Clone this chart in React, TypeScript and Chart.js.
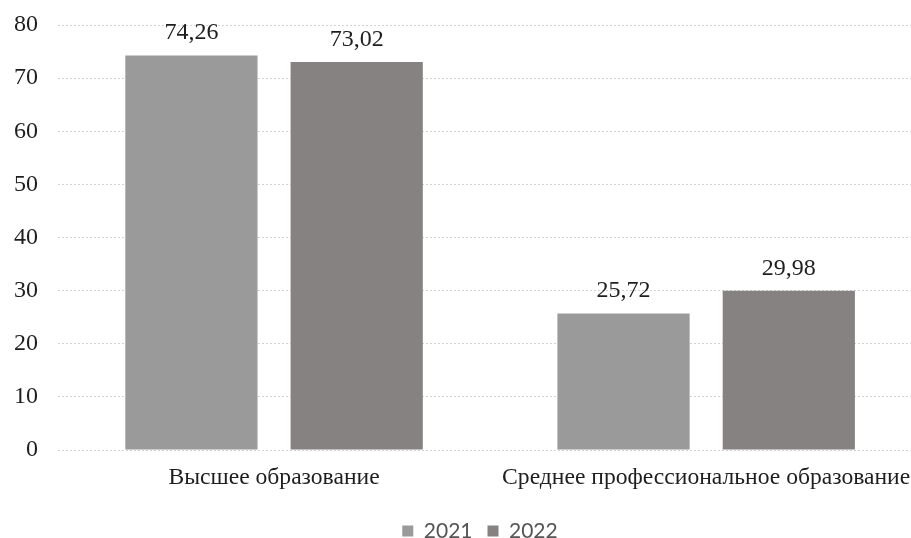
import React, { useEffect, useRef } from "react";
import { Chart, registerables } from "chart.js";

Chart.register(...registerables);

const categories = ["Высшее образование", "Среднее профессиональное образование"];
const values2021 = [74.26, 25.72];
const values2022 = [73.02, 29.98];
const seriesLabels = ["2021", "2022"];
const yTicks = [0, 10, 20, 30, 40, 50, 60, 70, 80];

const OFFSET_X = 6;
const CANVAS_W = 930;
const CANVAS_H = 564;

const fmt = (v: number) => v.toFixed(2).replace(".", ",");

const dataLabelPlugin = {
  id: "dataLabels",
  afterDatasetsDraw(chart: any) {
    const ctx = chart.ctx;
    ctx.save();
    ctx.font = '24px "Liberation Serif"';
    ctx.fillStyle = "#1e1e1e";
    ctx.textAlign = "center";
    ctx.textBaseline = "alphabetic";
    chart.data.datasets.forEach((ds: any, i: number) => {
      const meta = chart.getDatasetMeta(i);
      meta.data.forEach((bar: any, j: number) => {
        ctx.fillText(fmt(ds.data[j]), bar.x, bar.y - 16);
      });
    });
    ctx.restore();
  },
};

const legendShiftPlugin = {
  id: "legendShift",
  afterLayout(chart: any) {
    const lg = chart.legend;
    if (!lg) return;
    const targetCx = 480 + OFFSET_X;
    const targetCy = 528.5;
    const dx = targetCx - (lg.left + lg.right) / 2;
    const dy = targetCy - (lg.top + lg.bottom) / 2;
    lg.left += dx;
    lg.right += dx;
    lg.top += dy;
    lg.bottom += dy;
  },
};

export default function App() {
  const ref = useRef<HTMLCanvasElement>(null);
  useEffect(() => {
    document.documentElement.style.overflow = "hidden";
    document.body.style.margin = "0";
    document.body.style.overflow = "hidden";
    const chart = new Chart(ref.current!, {
      type: "bar",
      data: {
        labels: categories,
        datasets: [
          {
            label: seriesLabels[0],
            data: values2021,
            backgroundColor: "#9b9a9a",
            categoryPercentage: 0.765,
            barPercentage: 0.8,
          },
          {
            label: seriesLabels[1],
            data: values2022,
            backgroundColor: "#878282",
            categoryPercentage: 0.765,
            barPercentage: 0.8,
          },
        ],
      },
      options: {
        animation: false,
        responsive: false,
        maintainAspectRatio: false,
        layout: { padding: { left: 0, right: 0, top: 25, bottom: 12 } },
        scales: {
          x: {
            grid: { display: false, drawTicks: false },
            border: { display: false },
            ticks: {
              color: "#1e1e1e",
              font: { family: "Liberation Serif", size: 23.6 },
              padding: 13.8,
              maxRotation: 0,
              autoSkip: false,
            },
          },
          y: {
            min: 0,
            max: 80,
            afterBuildTicks: (axis: any) => {
              axis.ticks = yTicks.map((v) => ({ value: v }));
            },
            afterFit: (axis: any) => {
              axis.paddingTop = 0;
            },
            grid: {
              color: "#d2d2d2",
              drawTicks: false,
            },
            border: { display: false, dash: [2, 2] },
            ticks: {
              color: "#1e1e1e",
              font: { family: "Liberation Serif", size: 24 },
              padding: 20,
            },
          },
        },
        plugins: {
          legend: {
            position: "bottom",
            labels: {
              color: "#555555",
              font: { family: "Lato", size: 21 },
              boxWidth: 11,
              boxHeight: 11,
              padding: 15,
            },
          },
          tooltip: { enabled: false },
        },
      },
      plugins: [dataLabelPlugin, legendShiftPlugin],
    });
    return () => chart.destroy();
  }, []);
  return (
    <div
      style={{
        position: "absolute",
        left: -OFFSET_X,
        top: 0,
        width: CANVAS_W,
        height: CANVAS_H,
        overflow: "hidden",
      }}
    >
      <canvas ref={ref} width={CANVAS_W} height={CANVAS_H} />
    </div>
  );
}
